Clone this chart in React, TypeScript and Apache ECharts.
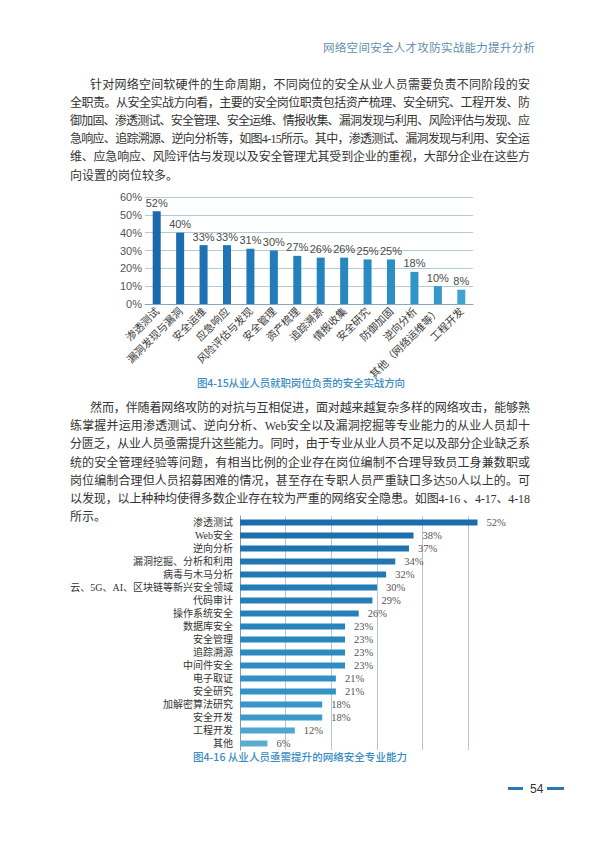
import React, { useEffect, useLayoutEffect, useRef } from "react";
import * as echarts from "echarts";

// ---------- data ----------
const roleCategories = [
  "渗透测试", "漏洞发现与漏洞", "安全运维", "应急响应", "风险评估与发现", "安全管理", "资产梳理",
  "追踪溯源", "情报收集", "安全研究", "防御加固", "逆向分析", "其他（网络运维等）", "工程开发",
];
const roleValues = [52, 40, 33, 33, 31, 30, 27, 26, 26, 25, 25, 18, 10, 8];
const roleColors = [
  "#1a69ad", "#1c6db0", "#1e71b3", "#1f75b5", "#2179b7", "#227cb9", "#2480bb",
  "#2584bd", "#2787bf", "#298bc1", "#2b8fc3", "#2f94c6", "#3499c9", "#3fa2cf",
];
const roleTicks = [0, 10, 20, 30, 40, 50, 60];

const skillCategories = [
  "渗透测试", "Web安全", "逆向分析", "漏洞挖掘、分析和利用", "病毒与木马分析",
  "云、5G、AI、区块链等新兴安全领域", "代码审计", "操作系统安全", "数据库安全", "安全管理",
  "追踪溯源", "中间件安全", "电子取证", "安全研究", "加解密算法研究", "安全开发", "工程开发", "其他",
];
const skillValues = [52, 38, 37, 34, 32, 30, 29, 26, 23, 23, 23, 23, 21, 21, 18, 18, 12, 6];
const skillColors = [
  "#1c6cad", "#1d6fae", "#1f72b0", "#2075b2", "#2278b4", "#237bb6", "#257eb8", "#2681ba", "#2884bc",
  "#2a87be", "#2c8ac0", "#2e8dc2", "#3190c4", "#3493c6", "#3896c8", "#3c99c9", "#4fa6cf", "#5aacd2",
];

const headerText = "网络空间安全人才攻防实战能力提升分析";
const para1 = [
  "针对网络空间软硬件的生命周期，不同岗位的安全从业人员需要负责不同阶段的安",
  "全职责。从安全实战方向看，主要的安全岗位职责包括资产梳理、安全研究、工程开发、防",
  "御加固、渗透测试、安全管理、安全运维、情报收集、漏洞发现与利用、风险评估与发现、应",
  "急响应、追踪溯源、逆向分析等，如图4-15所示。其中，渗透测试、漏洞发现与利用、安全运",
  "维、应急响应、风险评估与发现以及安全管理尤其受到企业的重视，大部分企业在这些方",
  "向设置的岗位较多。",
];
const para2 = [
  "然而，伴随着网络攻防的对抗与互相促进，面对越来越复杂多样的网络攻击，能够熟",
  "练掌握并运用渗透测试、逆向分析、Web安全以及漏洞挖掘等专业能力的从业人员却十",
  "分匮乏，从业人员亟需提升这些能力。同时，由于专业从业人员不足以及部分企业缺乏系",
  "统的安全管理经验等问题，有相当比例的企业存在岗位编制不合理导致员工身兼数职或",
  "岗位编制合理但人员招募困难的情况，甚至存在专职人员严重缺口多达50人以上的。可",
  "以发现，以上种种均使得多数企业存在较为严重的网络安全隐患。如图4-16 、4-17、4-18",
  "所示。",
];
const caption1 = "图4-15从业人员就职岗位负责的安全实战方向";
const caption2 = "图4-16 从业人员亟需提升的网络安全专业能力";
const pageNumber = "54";

const BODY_FONT = '"Liberation Serif", "Noto Sans CJK SC", serif';
const CJK_FONT = '"Noto Sans CJK SC", sans-serif';

function JLine(props: {
  text: string; left: number; top: number; width?: number; style?: React.CSSProperties;
}) {
  const { text, left, top, width, style } = props;
  const ref = useRef<HTMLSpanElement>(null);
  useLayoutEffect(() => {
    const el = ref.current;
    if (!el || !width) return;
    el.style.letterSpacing = "0px";
    const w = el.getBoundingClientRect().width;
    const n = Array.from(text).length;
    if (n > 1) el.style.letterSpacing = (width - w) / (n - 1) + "px";
  }, [text, width]);
  return (
    <div style={{ position: "absolute", left, top: top - 9, lineHeight: "18px", whiteSpace: "nowrap", ...style }}>
      <span ref={ref}>{text}</span>
    </div>
  );
}

function RoleChart() {
  const ref = useRef<HTMLDivElement>(null);
  useEffect(() => {
    const chart = echarts.init(ref.current!, null, { renderer: "svg" });
    chart.setOption({
      animation: false,
      grid: { left: 65, right: 27, top: 12, bottom: 91, outerBoundsMode: "none", containLabel: false },
      xAxis: {
        type: "category",
        data: roleCategories,
        axisTick: { show: false },
        axisLine: { lineStyle: { color: "#8aa6ba", width: 1 } },
        axisLabel: { rotate: 45, interval: 0, fontSize: 10.5, color: "#3a3a3a", margin: 5, fontFamily: CJK_FONT },
      },
      yAxis: {
        type: "value",
        min: roleTicks[0],
        max: roleTicks[roleTicks.length - 1],
        interval: 10,
        axisLine: { show: false },
        axisTick: { show: false },
        axisLabel: { formatter: "{value}%", fontSize: 11, color: "#555", margin: 3, fontFamily: "Liberation Sans" },
        splitLine: { lineStyle: { color: "#b5cad8", width: 1 } },
      },
      series: [
        {
          type: "bar",
          barWidth: 8,
          data: roleValues.map((v, i) => ({ value: v, itemStyle: { color: roleColors[i] } })),
          label: {
            show: true, position: "top", distance: 3, formatter: "{c}%",
            fontSize: 11, color: "#4a4a4a", fontFamily: "Liberation Sans",
          },
        },
      ],
    });
    return () => chart.dispose();
  }, []);
  return <div ref={ref} style={{ position: "absolute", left: 80, top: 185, width: 420, height: 210 }} />;
}

function SkillChart() {
  const ref = useRef<HTMLDivElement>(null);
  useEffect(() => {
    const chart = echarts.init(ref.current!, null, { renderer: "svg" });
    chart.setOption({
      animation: false,
      grid: { left: 200, right: 6, top: 11, bottom: 10, outerBoundsMode: "none", containLabel: false },
      xAxis: {
        type: "value",
        min: 0,
        max: 60,
        interval: 10,
        axisLine: { show: false },
        axisTick: { show: false },
        axisLabel: { show: false },
        splitLine: { showMaxLine: false, lineStyle: { color: "#b3c6d2", width: 1 } },
      },
      yAxis: {
        type: "category",
        inverse: true,
        data: skillCategories,
        axisTick: { show: false },
        axisLine: { lineStyle: { color: "#7d9db3", width: 1 } },
        axisLabel: { fontSize: 10, color: "#333", margin: 7, fontFamily: BODY_FONT },
      },
      series: [
        {
          type: "bar",
          barWidth: 6,
          data: skillValues.map((v, i) => ({ value: v, itemStyle: { color: skillColors[i] } })),
          label: {
            show: true, position: "right", distance: 9, formatter: "{c}%",
            fontSize: 10.5, color: "#555", fontFamily: "Liberation Serif",
          },
        },
      ],
    });
    return () => chart.dispose();
  }, []);
  return <div ref={ref} style={{ position: "absolute", left: 40, top: 505, width: 480, height: 255 }} />;
}

export default function App() {
  const bodyStyle: React.CSSProperties = { fontFamily: BODY_FONT, fontSize: 12, color: "#333" };
  const capStyle: React.CSSProperties = { fontFamily: CJK_FONT, fontSize: 10.5, color: "#3a8cc2", fontWeight: 500 };
  return (
    <div style={{ position: "absolute", left: 0, top: 0, width: 600, height: 848, background: "#fff", overflow: "hidden" }}>
      <JLine text={headerText} left={323} top={47} width={212}
        style={{ fontFamily: CJK_FONT, fontSize: 11.5, color: "#5f8eae" }} />
      {para1.map((t, i) => (
        <JLine key={"p1" + i} text={t} left={i === 0 ? 90 : 70} top={85 + i * 18.1}
          width={i === para1.length - 1 ? undefined : (i === 0 ? 440 : 460)} style={bodyStyle} />
      ))}
      <RoleChart />
      <JLine text={caption1} left={197} top={383} width={208} style={capStyle} />
      {para2.map((t, i) => (
        <JLine key={"p2" + i} text={t} left={i === 0 ? 90 : 70} top={408 + i * 18.2}
          width={i === para2.length - 1 ? undefined : (i === 0 ? 440 : 460)} style={bodyStyle} />
      ))}
      <SkillChart />
      <JLine text={caption2} left={193} top={757} width={214} style={capStyle} />
      <div style={{ position: "absolute", left: 508, top: 787, width: 15, height: 3, background: "#2a78b5" }} />
      <div style={{ position: "absolute", left: 547, top: 787, width: 17, height: 3, background: "#2a78b5" }} />
      <JLine text={pageNumber} left={530} top={789}
        style={{ fontFamily: "Liberation Sans", fontSize: 12, color: "#333" }} />
    </div>
  );
}
